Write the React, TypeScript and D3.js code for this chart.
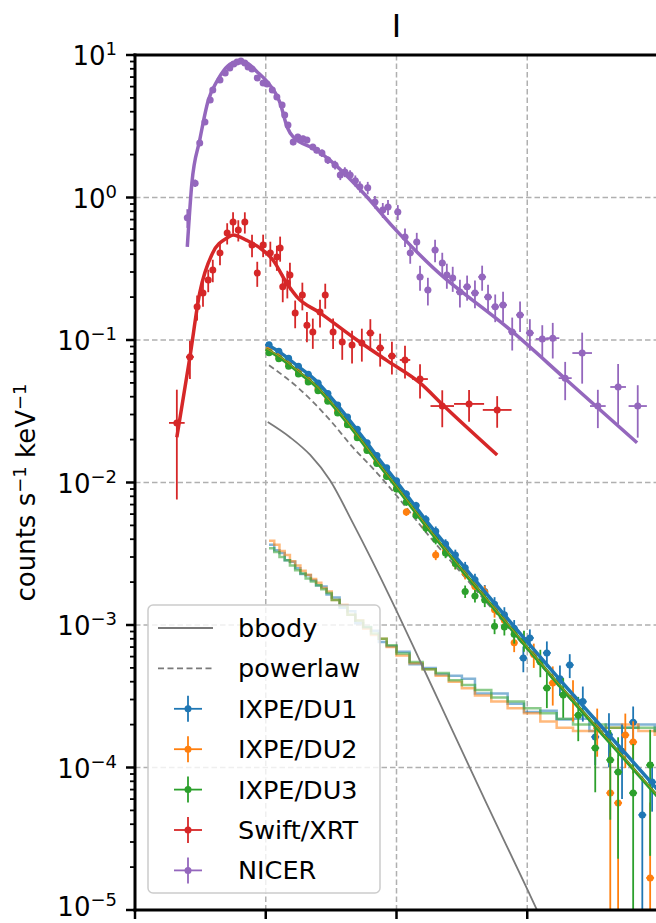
import React from "react";
import * as d3 from "d3";

// ---------- data ----------
// NICER spectrum (keV, counts/s/keV, relative error, energy half-width)
const nicerE = [0.80,0.92,0.99,1.07,1.15,1.19,1.30,1.38,1.45,1.51,1.56,1.62,1.68,1.73,1.79,1.87,1.96,2.02,2.10,2.17,2.25,2.29,2.34,2.42,2.49,2.57,2.63,2.72,2.78,2.86,2.95,3.06,3.14,3.21,3.29,3.37,3.44,3.56,3.67,3.79,3.87,4.02,4.13,4.21,4.31,4.36,4.48,4.59,4.70,4.77,4.86,4.97,5.08,5.20,5.31,5.40,5.51,5.63,5.77,5.89,6.04,6.23,6.39,6.58,6.84,7.08,7.39,7.69];
const nicerV = [0.72,1.26,2.41,3.39,4.83,5.68,6.68,7.48,8.11,8.65,8.93,9.08,8.79,8.24,7.98,6.90,6.37,6.26,5.68,5.07,4.46,3.79,3.23,2.45,2.66,2.58,2.53,2.26,2.15,2.05,1.83,1.69,1.44,1.51,1.44,1.31,1.19,1.17,0.93,0.817,0.857,0.79,0.528,0.408,0.487,0.277,0.224,0.428,0.347,0.286,0.272,0.217,0.236,0.214,0.277,0.20,0.171,0.176,0.114,0.150,0.112,0.1016,0.103,0.054,0.081,0.0344,0.0468,0.0344];
const nicerErrRel = [0.15,0.06,0.04,0.04,0.03,0.03,0.03,0.03,0.03,0.03,0.03,0.03,0.03,0.03,0.03,0.03,0.03,0.03,0.04,0.04,0.04,0.05,0.05,0.05,0.05,0.05,0.05,0.05,0.05,0.06,0.06,0.07,0.08,0.08,0.08,0.09,0.09,0.1,0.1,0.12,0.12,0.12,0.15,0.16,0.16,0.2,0.22,0.18,0.18,0.2,0.2,0.22,0.2,0.22,0.2,0.22,0.22,0.24,0.26,0.24,0.25,0.25,0.28,0.3,0.39,0.3,0.45,0.4,0.44];
const nicerXerr = [0.03,0.03,0.03,0.03,0.03,0.03,0.03,0.03,0.03,0.03,0.03,0.03,0.03,0.03,0.03,0.03,0.03,0.03,0.03,0.03,0.03,0.03,0.03,0.03,0.03,0.03,0.03,0.03,0.03,0.03,0.03,0.05,0.05,0.05,0.05,0.05,0.05,0.05,0.05,0.05,0.05,0.05,0.05,0.05,0.05,0.05,0.05,0.05,0.05,0.05,0.05,0.06,0.06,0.06,0.06,0.06,0.06,0.06,0.06,0.06,0.06,0.1,0.1,0.1,0.15,0.12,0.12,0.14,0.17];
const nicerModelE = [0.80,0.87,0.99,1.12,1.25,1.50,1.68,1.87,2.02,2.22,2.33,2.42,2.78,2.98,3.49,3.95,4.77,5.02,5.69,6.61,7.68];
const nicerModelV = [0.45,1.26,2.53,4.8,6.5,8.8,8.9,7.6,6.5,4.6,3.1,2.66,2.15,1.83,1.08,0.62,0.264,0.214,0.123,0.052,0.019];

// Swift/XRT spectrum
const swiftE = [0.64,0.84,0.95,1.04,1.12,1.19,1.30,1.41,1.50,1.58,1.68,1.79,1.87,1.96,2.07,2.17,2.22,2.26,2.33,2.37,2.45,2.56,2.63,2.72,2.83,2.91,3.03,3.17,3.32,3.47,3.60,3.75,3.93,4.13,4.36,4.70,5.11,5.54];
const swiftV = [0.0262,0.076,0.171,0.214,0.264,0.31,0.408,0.564,0.673,0.592,0.673,0.465,0.295,0.465,0.408,0.382,0.443,0.236,0.251,0.286,0.155,0.207,0.127,0.114,0.157,0.207,0.114,0.0968,0.0923,0.0953,0.112,0.0879,0.0773,0.0724,0.0532,0.0344,0.0356,0.0323];
const swiftErrRel = [0.71,0.3,0.2,0.2,0.18,0.18,0.18,0.17,0.17,0.17,0.17,0.18,0.2,0.18,0.2,0.2,0.2,0.22,0.22,0.22,0.22,0.22,0.24,0.24,0.22,0.2,0.24,0.25,0.26,0.26,0.25,0.26,0.26,0.26,0.27,0.29,0.25,0.25];
const swiftXerr = [0.12,0.06,0.04,0.04,0.04,0.04,0.04,0.04,0.04,0.04,0.04,0.04,0.04,0.04,0.04,0.04,0.04,0.04,0.04,0.04,0.04,0.04,0.04,0.04,0.04,0.04,0.04,0.04,0.04,0.04,0.06,0.06,0.06,0.08,0.12,0.18,0.23,0.22];
const swiftModelE = [0.64,0.84,0.99,1.19,1.41,1.50,1.71,1.91,2.11,2.32,2.48,2.83,3.33,3.85,4.36,4.71,5.54];
const swiftModelV = [0.0208,0.076,0.214,0.41,0.52,0.546,0.50,0.443,0.364,0.251,0.20,0.155,0.105,0.072,0.050,0.035,0.0156];

// IXPE spectra (common energy grid)
const ixpeE = [2.05,2.20,2.35,2.50,2.65,2.80,2.95,3.10,3.25,3.40,3.55,3.70,3.85,4.00,4.15,4.30,4.45,4.60,4.75,4.90,5.05,5.20,5.35,5.50,5.65,5.80];
const du1V = [0.0925,0.0835,0.0745,0.0655,0.0575,0.0500,0.0421,0.0350,0.0288,0.0236,0.0190,0.0155,0.0127,0.0103,0.0083,0.0069,0.0055,0.00455,0.0037,0.0031,0.00252,0.00208,0.00172,0.00140,0.00118,0.00095];
const du2V = [0.0850,0.0765,0.0680,0.0598,0.0522,0.0455,0.0382,0.0320,0.0258,0.0212,0.0172,0.0139,0.0112,0.0091,0.0062,0.0060,0.0049,0.0031,0.0033,0.0027,0.00232,0.00186,0.0017,0.00128,0.00108,0.00075];
const du3V = [0.0815,0.0738,0.0655,0.0578,0.0508,0.0441,0.0371,0.0308,0.0254,0.0206,0.0168,0.0136,0.0110,0.0090,0.0073,0.0059,0.0048,0.0040,0.0032,0.0027,0.00172,0.00160,0.00150,0.00098,0.00097,0.00086];
const ixpeErrRel = [0.02,0.02,0.02,0.02,0.02,0.025,0.025,0.03,0.03,0.035,0.04,0.04,0.045,0.05,0.06,0.06,0.07,0.08,0.08,0.09,0.1,0.1,0.11,0.12,0.13,0.14];
const du1HiE = [5.94,6.04,6.30,6.50,6.65,6.85,7.04,7.25,7.45,7.62,7.76,7.91];
const du1HiV = [0.000586,0.000811,0.000637,0.00042,0.000524,0.00029,0.000164,0.00017,0.00013,0.000208,0.0000465,0.000079];
const du1HiErr = [0.00012,0.00012,0.00013,0.0001,0.0001,0.00008,0.00006,0.00007,0.00007,0.00006,0.00004,0.00003];
const du2HiE = [6.10,6.39,6.70,7.07,7.27,7.39,7.50,7.62,7.88];
const du2HiV = [0.00062,0.000392,0.00031,0.000189,0.0000662,0.0000564,0.000169,0.000151,0.0000168];
const du2HiErr = [0.00012,0.00012,0.0001,0.00007,0.00006,0.00006,0.00007,0.00006,0.00004];
const du3HiE = [5.95,6.20,6.30,6.55,6.78,7.04,7.27,7.39,7.62,7.88];
const du3HiV = [0.00078,0.00055,0.000361,0.000323,0.000233,0.000137,0.000113,0.0000929,0.0000662,0.000104];
const du3HiErr = [0.00013,0.00012,0.0001,0.0001,0.00008,0.00007,0.00007,0.00007,0.00008,0.00008];

// IXPE total models
const ixpeModelE = [2.0,2.25,2.5,2.75,3.0,3.25,3.5,3.75,4.0,4.5,5.0,5.5,6.0,6.5,7.0,7.5,8.0];
const du3ModelV = [0.0865,0.0736,0.0596,0.0483,0.0361,0.0262,0.0186,0.01305,0.00929,0.00464,0.00243,0.00129,0.00069,0.000373,0.000205,0.000113,0.0000621];
const du1ModelV = [0.094,0.080,0.065,0.0527,0.0394,0.0286,0.0203,0.01425,0.01015,0.00508,0.00267,0.00142,0.00076,0.000412,0.000227,0.000126,0.0000695];
const du2ModelV = [0.0875,0.0745,0.0603,0.0489,0.0365,0.0265,0.0188,0.0132,0.0094,0.0047,0.00246,0.00131,0.0007,0.000378,0.000208,0.000115,0.000063];

// model components
const bbodyE = [2.03,2.37,2.68,2.98,3.34,3.90,4.36,4.86,5.38,6.00,6.20];
const bbodyV = [0.0266,0.0208,0.0156,0.0104,0.00512,0.00157,0.000559,0.00018,0.0000555,0.000014,0.0000089];
const powerlawE = [2.05,2.5,2.98,3.33,3.70,4.0,4.5,5.0,5.5,6.0,6.5,7.0,7.5,8.0];
const powerlawV = [0.0665,0.046,0.0275,0.0177,0.0117,0.0081,0.0042,0.00229,0.00124,0.000675,0.000365,0.000202,0.000112,0.0000618];

// IXPE background histograms
const bgEdges = [2.05,2.13,2.21,2.29,2.37,2.45,2.53,2.61,2.69,2.77,2.85,2.93,3.01,3.13,3.25,3.37,3.49,3.61,3.73,3.85,4.0,4.2,4.4,4.6,4.8,5.0,5.2,5.45,5.7,5.95,6.2,6.45,6.7,6.95,7.2,7.45,7.7,7.95,8.2];
const bgDU1 = [0.00365,0.00335,0.00320,0.00285,0.00278,0.00250,0.00228,0.00223,0.00206,0.00189,0.00186,0.00164,0.00156,0.00132,0.00125,0.00103,0.00096,0.00091,0.00076,0.00071,0.00065,0.00053,0.00050,0.00045,0.00044,0.00042,0.00033,0.00033,0.00028,0.000245,0.00025,0.000217,0.00022,0.00018,0.0002,0.00019,0.0002,0.00018];
const bgDU2 = [0.00390,0.00365,0.00330,0.00310,0.00280,0.00262,0.00240,0.00225,0.00210,0.00198,0.00182,0.00172,0.00150,0.00138,0.00118,0.00108,0.00094,0.00085,0.00080,0.0007,0.00061,0.00054,0.00049,0.00044,0.00040,0.00036,0.00032,0.00029,0.00026,0.00024,0.00021,0.00019,0.00018,0.00018,0.00019,0.00020,0.00018,0.00017];
const bgDU3 = [0.00345,0.00325,0.00300,0.00285,0.00262,0.00242,0.00230,0.00212,0.00202,0.00190,0.00178,0.00168,0.00150,0.00136,0.00118,0.00107,0.00097,0.00087,0.00080,0.00072,0.00063,0.00055,0.00049,0.00046,0.00041,0.00038,0.00035,0.00031,0.00029,0.00026,0.00024,0.00022,0.00020,0.00020,0.00019,0.00019,0.00019,0.00018];

const xTicks = [0, 2, 4, 6, 8];
const yDecades = [-5, -4, -3, -2, -1, 0, 1];
const legendLabels = ["bbody", "powerlaw", "IXPE/DU1", "IXPE/DU2", "IXPE/DU3", "Swift/XRT", "NICER"];

// ---------- styling ----------
const C = {
  blue: "#1f77b4",
  orange: "#ff7f0e",
  green: "#2ca02c",
  red: "#d62728",
  purple: "#9467bd",
  gray: "#7a7a7a",
  grid: "#b0b0b0",
};
const FONT = "DejaVu Sans, Verdana, sans-serif";
const W = 656, H = 923;
const X0 = 135, X1 = 658, Y0 = 55, Y1 = 910;

const x = d3.scaleLinear().domain([0, 8]).range([X0, X1]);
const y = d3.scaleLog().domain([1e-5, 10]).range([Y1, Y0]);

const smooth = (E: number[], V: number[]) =>
  d3.line<number>().x((_, i) => x(E[i])).y((_, i) => y(V[i])).curve(d3.curveMonotoneX)(V.map((_, i) => i)) || "";

const steps = (edges: number[], V: number[]) => {
  const pts: [number, number][] = V.map((v, i) => [edges[i], v]);
  pts.push([edges[edges.length - 1], V[V.length - 1]]);
  return d3.line<[number, number]>().x((d) => x(d[0])).y((d) => y(d[1])).curve(d3.curveStepAfter)(pts) || "";
};

const safeY = (v: number) => (v <= 1e-7 ? Y1 + 20 : y(v));

function ErrPoints(props: { E: number[]; V: number[]; err: number[]; xerr: number[] | number; color: string; r: number; w?: number }) {
  const { E, V, err, xerr, color, r } = props;
  const w = props.w ?? 1.8;
  return (
    <g>
      {E.map((e, i) => {
        const v = V[i];
        const er = err[i];
        const xe = Array.isArray(xerr) ? xerr[i] : xerr;
        const cx = x(e), cy = y(v);
        return (
          <g key={i}>
            <line x1={cx} x2={cx} y1={safeY(v - er)} y2={y(v + er)} stroke={color} strokeWidth={w} />
            <line x1={x(e - xe)} x2={x(e + xe)} y1={cy} y2={cy} stroke={color} strokeWidth={w} />
            <circle cx={cx} cy={cy} r={r} fill={color} />
          </g>
        );
      })}
    </g>
  );
}

const relToAbs = (V: number[], rel: number[]) => V.map((v, i) => v * rel[i]);

export default function App() {
  const minorTicks: number[] = [];
  for (let d = -5; d < 1; d++) for (let k = 2; k <= 9; k++) minorTicks.push(k * Math.pow(10, d));

  const expLabel = (e: number) => (e < 0 ? "\u2212" + Math.abs(e) : String(e));

  const legendX = 148, legendY = 605, legendW = 232, legendH = 288;
  const rowY = (i: number) => 628 + i * 40.4;
  const legendColors = [C.gray, C.gray, C.blue, C.orange, C.green, C.red, C.purple];

  return (
    <svg width={W} height={H} style={{ position: "absolute", left: 0, top: 0, background: "#fff" }} fontFamily={FONT}>
      <defs>
        <clipPath id="plotclip">
          <rect x={X0} y={Y0} width={X1 - X0} height={Y1 - Y0} />
        </clipPath>
      </defs>
      <rect x={0} y={0} width={W} height={H} fill="#fff" />

      {/* grid */}
      <g stroke={C.grid} strokeWidth={1.5} strokeDasharray="5.5,3">
        {[2, 4, 6].map((t) => (
          <line key={"gx" + t} x1={x(t)} x2={x(t)} y1={Y0} y2={Y1} />
        ))}
        {[-4, -3, -2, -1, 0].map((d) => (
          <line key={"gy" + d} x1={X0} x2={X1} y1={y(Math.pow(10, d))} y2={y(Math.pow(10, d))} />
        ))}
      </g>

      <g clipPath="url(#plotclip)">
        {/* IXPE backgrounds */}
        <g fill="none" strokeWidth={2.5} strokeOpacity={0.55}>
          <path d={steps(bgEdges, bgDU1)} stroke={C.blue} />
          <path d={steps(bgEdges, bgDU2)} stroke={C.orange} />
          <path d={steps(bgEdges, bgDU3)} stroke={C.green} />
        </g>

        {/* model components */}
        <path d={smooth(bbodyE, bbodyV)} fill="none" stroke={C.gray} strokeWidth={1.8} />
        <path d={smooth(powerlawE, powerlawV)} fill="none" stroke={C.gray} strokeWidth={1.8} strokeDasharray="6,3.5" />

        {/* IXPE data */}
        <ErrPoints E={ixpeE} V={du1V} err={relToAbs(du1V, ixpeErrRel)} xerr={0.05} color={C.blue} r={3.5} />
        <ErrPoints E={du1HiE} V={du1HiV} err={du1HiErr} xerr={0.06} color={C.blue} r={3.5} />
        <ErrPoints E={ixpeE} V={du2V} err={relToAbs(du2V, ixpeErrRel)} xerr={0.05} color={C.orange} r={3.5} />
        <ErrPoints E={du2HiE} V={du2HiV} err={du2HiErr} xerr={0.06} color={C.orange} r={3.5} />
        <ErrPoints E={ixpeE} V={du3V} err={relToAbs(du3V, ixpeErrRel)} xerr={0.05} color={C.green} r={3.5} />
        <ErrPoints E={du3HiE} V={du3HiV} err={du3HiErr} xerr={0.06} color={C.green} r={3.5} />
        <path d={smooth(ixpeModelE, du1ModelV)} fill="none" stroke={C.blue} strokeWidth={3.5} />
        <path d={smooth(ixpeModelE, du3ModelV)} fill="none" stroke={C.green} strokeWidth={3.5} />
        <path d={smooth(ixpeModelE, du2ModelV)} fill="none" stroke={C.orange} strokeWidth={1} strokeOpacity={0.7} />

        {/* Swift/XRT */}
        <ErrPoints E={swiftE} V={swiftV} err={relToAbs(swiftV, swiftErrRel)} xerr={swiftXerr} color={C.red} r={3.5} />
        <path d={smooth(swiftModelE, swiftModelV)} fill="none" stroke={C.red} strokeWidth={3.5} />

        {/* NICER */}
        <ErrPoints E={nicerE} V={nicerV} err={relToAbs(nicerV, nicerErrRel)} xerr={nicerXerr} color={C.purple} r={3.5} />
        <path d={smooth(nicerModelE, nicerModelV)} fill="none" stroke={C.purple} strokeWidth={3.5} />
      </g>

      {/* spines */}
      <g stroke="#000" strokeWidth={3} fill="none">
        <line x1={X0} x2={X0} y1={Y0 - 1.5} y2={Y1 + 1.5} />
        <line x1={X0 - 1.5} x2={X1} y1={Y0} y2={Y0} />
        <line x1={X0 - 1.5} x2={X1} y1={Y1} y2={Y1} />
        <line x1={X1} x2={X1} y1={Y0} y2={Y1} />
      </g>

      {/* ticks */}
      <g stroke="#000">
        {yDecades.map((d) => (
          <line key={"ymaj" + d} x1={X0 - 9} x2={X0} y1={y(Math.pow(10, d))} y2={y(Math.pow(10, d))} strokeWidth={2.5} />
        ))}
        {minorTicks.map((v, i) => (
          <line key={"ymin" + i} x1={X0 - 5} x2={X0} y1={y(v)} y2={y(v)} strokeWidth={1.8} />
        ))}
        {xTicks.map((t) => (
          <line key={"xt" + t} x1={x(t)} x2={x(t)} y1={Y1} y2={Y1 + 9} strokeWidth={2.5} />
        ))}
      </g>
      <g fontSize={26} fill="#000">
        {yDecades.map((d) => (
          <text key={"yl" + d} x={117} y={Math.min(y(Math.pow(10, d)) + 10, H - 7)} textAnchor="end">
            10<tspan dy={-10} fontSize={18}>{expLabel(d)}</tspan>
          </text>
        ))}
      </g>

      {/* y axis label */}
      <text transform={`translate(35,${(Y0 + Y1) / 2 + 10}) rotate(-90)`} textAnchor="middle" fontSize={26} fill="#000">
        counts s<tspan dy={-9} fontSize={18}>{"\u22121"}</tspan>
        <tspan dy={9}> keV</tspan>
        <tspan dy={-9} fontSize={18}>{"\u22121"}</tspan>
      </text>

      {/* title */}
      <text x={(X0 + X1) / 2} y={37} textAnchor="middle" fontSize={32} fill="#000">I</text>

      {/* legend */}
      <g>
        <rect x={legendX} y={legendY} width={legendW} height={legendH} rx={5} fill="#fff" fillOpacity={0.8} stroke="#cccccc" strokeWidth={1.5} />
        {legendLabels.map((lab, i) => {
          const ry = rowY(i);
          const col = legendColors[i];
          return (
            <g key={lab}>
              {i === 0 && <line x1={158} x2={213} y1={ry} y2={ry} stroke={col} strokeWidth={1.8} />}
              {i === 1 && <line x1={158} x2={213} y1={ry} y2={ry} stroke={col} strokeWidth={1.8} strokeDasharray="6,3.5" />}
              {i > 1 && (
                <g>
                  <line x1={174} x2={202} y1={ry} y2={ry} stroke={col} strokeWidth={1.8} />
                  <line x1={188} x2={188} y1={ry - 13} y2={ry + 13} stroke={col} strokeWidth={1.8} />
                  <circle cx={188} cy={ry} r={3.5} fill={col} />
                </g>
              )}
              <text x={238} y={ry + 9} fontSize={25.5} fill="#000">{lab}</text>
            </g>
          );
        })}
      </g>
    </svg>
  );
}
